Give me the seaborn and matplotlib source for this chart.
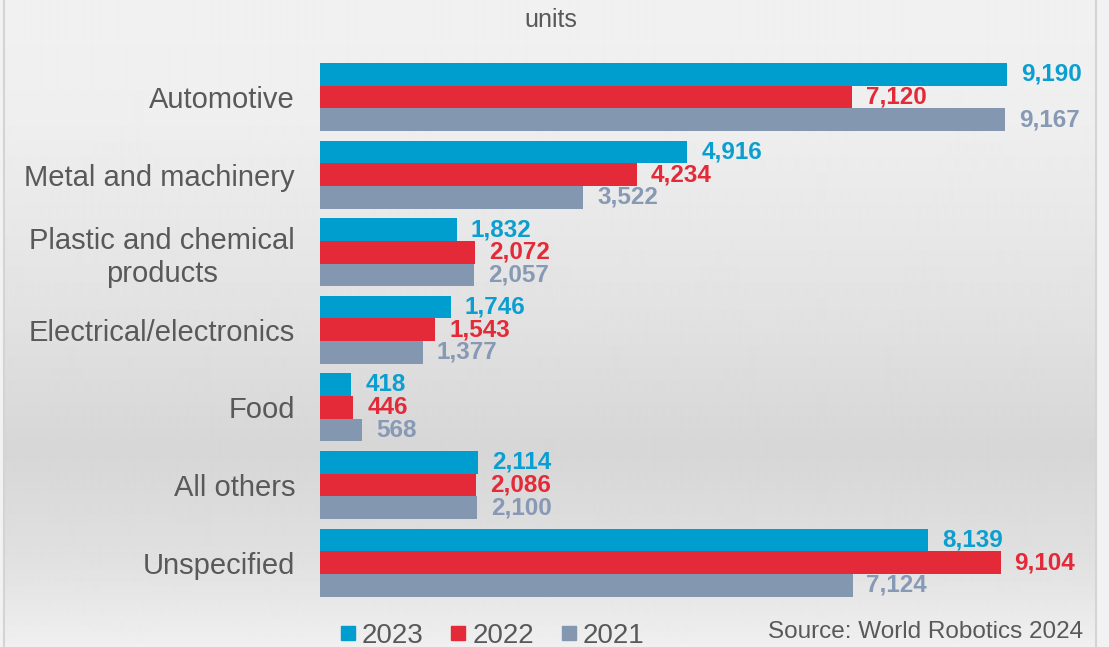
import numpy as np
import pandas as pd
import matplotlib
matplotlib.use("Agg")
import matplotlib.pyplot as plt
from matplotlib.lines import Line2D
import seaborn as sns

# data
categories = ["Automotive", "Metal and machinery", "Plastic and chemical\nproducts",
              "Electrical/electronics", "Food", "All others", "Unspecified"]
years = ["2023", "2022", "2021"]
units_2023 = [9190, 4916, 1832, 1746, 418, 2114, 8139]
units_2022 = [7120, 4234, 2072, 1543, 446, 2086, 9104]
units_2021 = [9167, 3522, 2057, 1377, 568, 2100, 7124]

bar_colors = ["#009ECE", "#E42A38", "#8497B0"]
label_colors = ["#0A9FD0", "#E42A38", "#8799B4"]
text_grey = "#595959"

df = pd.DataFrame({
    "sector": categories * 3,
    "year": [y for y in years for _ in categories],
    "units": units_2023 + units_2022 + units_2021,
})

sns.set_theme(style="white")
plt.rcParams["font.family"] = ["Liberation Sans", "DejaVu Sans"]

W, H = 1109, 647
fig = plt.figure(figsize=(W / 100, H / 100), dpi=100)
fig.patch.set_facecolor("#f2f2f2")

# soft grey gradient panel behind the chart
bg = fig.add_axes([4 / W, 0, (1096 - 4) / W, 1], zorder=-5)
stops_y = np.array([0, 120, 300, 450, 560, 647])
stops_v = np.array([0.945, 0.935, 0.89, 0.84, 0.88, 0.94])
grad = np.interp(np.arange(H), stops_y, stops_v)
bg.imshow(np.repeat(grad[:, None], 2, axis=1), cmap="gray", vmin=0, vmax=1,
          aspect="auto", extent=[0, 1, 1, 0], interpolation="bilinear")
bg.set_xlim(0, 1)
bg.set_ylim(1, 0)
bg.axis("off")
for xp in (4, 1096):
    fig.add_artist(Line2D([xp / W, xp / W], [0, 1], color="#d4d4d4", lw=1.5))

# main axes: x=0 at pixel 320, 0.07475 px per unit
left, right = 320, 1100
top, bottom = 50, 605
ax = fig.add_axes([left / W, 1 - bottom / H, (right - left) / W, (bottom - top) / H])
ax.set_facecolor("none")

sns.barplot(data=df, y="sector", x="units", hue="year", orient="h",
            palette=bar_colors, width=0.875, saturation=1, ax=ax, legend=False,
            linewidth=0)

px_per_unit = 687 / 9190
ax.set_xlim(0, (right - left) / px_per_unit)
spacing = 77.6
ax.set_ylim((bottom - 97) / spacing, (top - 97) / spacing)

for cont, col in zip(ax.containers, label_colors):
    ax.bar_label(cont, labels=[f"{v:,.0f}" for v in cont.datavalues],
                 padding=10, color=col, fontsize=17.5, fontweight="bold")

ax.set_xlabel("")
ax.set_ylabel("")
ax.set_xticks([])
ax.tick_params(axis="y", length=0, pad=18, labelsize=21, labelcolor=text_grey)
for lbl in ax.get_yticklabels():
    lbl.set_multialignment("center")
sns.despine(ax=ax, left=True, bottom=True)

fig.text(551 / W, 1 - 20 / H, "units", ha="center", va="center",
         fontsize=18, color=text_grey)
fig.text(1083 / W, 1 - 632 / H, "Source: World Robotics 2024", ha="right",
         va="center", fontsize=17.5, color=text_grey)

handles = [Line2D([], [], marker="s", ls="", markersize=10, color=c) for c in bar_colors]
fig.legend(handles, years, loc="center", bbox_to_anchor=(492 / W, 1 - 636 / H),
           ncol=3, frameon=False, fontsize=20, labelcolor=text_grey,
           handlelength=0.6, handletextpad=0.2, columnspacing=0.95)

fig.savefig("out.png", dpi=100, facecolor=fig.get_facecolor())
